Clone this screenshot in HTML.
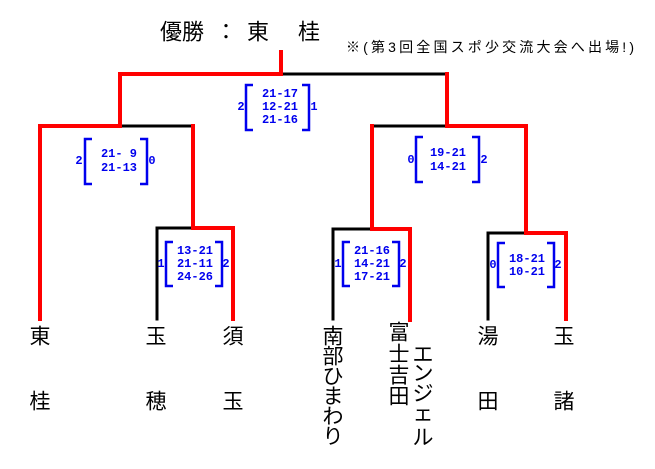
<!DOCTYPE html>
<html><head><meta charset="utf-8"><style>
html,body{margin:0;padding:0;background:#fff;}
svg{display:block;}
.n{font-family:"Liberation Sans","Noto Sans CJK JP",sans-serif;font-size:21px;fill:#000;text-anchor:middle;dominant-baseline:central;}
.s{font-family:"Liberation Mono",monospace;font-weight:bold;font-size:12px;fill:#0000ee;text-anchor:middle;dominant-baseline:central;}
.b{fill:none;stroke:#0000ee;stroke-width:2.5;}
</style></head><body>
<svg width="655" height="469" viewBox="0 0 655 469" xmlns="http://www.w3.org/2000/svg">
<g class="n" style="font-size:22px">
<text x="171" y="32">優</text><text x="193" y="32">勝</text><text x="226" y="32">：</text><text x="258" y="32">東</text><text x="309" y="32">桂</text>
</g>
<text x="346" y="47" style="font-family:'Liberation Sans','Noto Sans CJK JP',sans-serif;font-size:14px;dominant-baseline:central" textLength="288">※(第3回全国スポ少交流大会へ出場!)</text>
<g fill="none" stroke-linecap="square">
<g stroke="#000" stroke-width="3">
<path d="M281 74H447"/><path d="M120 126H193"/><path d="M372 126H447"/>
<path d="M157 319V228H193"/><path d="M333 319V229H372"/><path d="M488 319V233H526"/>
</g>
<g stroke="#ff0000" stroke-width="4">
<path d="M281 52V74H120V126H40V319"/>
<path d="M193 126V228H233V319"/>
<path d="M447 74V126H526V233H566V319"/>
<path d="M372 126V229H410V320"/>
</g>
</g>
<g>
<path class="b" d="M253 85H246V130H253M302 85H309V130H302"/>
<text class="s" x="241" y="107">2</text><text class="s" x="314" y="107">1</text>
<text class="s" x="280" y="94">21-17</text><text class="s" x="280" y="107">12-21</text><text class="s" x="280" y="120">21-16</text>
<path class="b" d="M92 139H85V184H92M140 139H147V184H140"/>
<text class="s" x="79" y="161">2</text><text class="s" x="152" y="161">0</text>
<text class="s" x="119" y="154">21- 9</text><text class="s" x="119" y="168">21-13</text>
<path class="b" d="M423 137H416V182H423M472 137H479V182H472"/>
<text class="s" x="411" y="160">0</text><text class="s" x="484" y="160">2</text>
<text class="s" x="448" y="153">19-21</text><text class="s" x="448" y="167">14-21</text>
<path class="b" d="M173 242H166V286H173M215 242H222V286H215"/>
<text class="s" x="161" y="264">1</text><text class="s" x="226" y="264">2</text>
<text class="s" x="195" y="251">13-21</text><text class="s" x="195" y="264">21-11</text><text class="s" x="195" y="277">24-26</text>
<path class="b" d="M350 242H343V286H350M392 242H399V286H392"/>
<text class="s" x="338" y="264">1</text><text class="s" x="403" y="264">2</text>
<text class="s" x="372" y="251">21-16</text><text class="s" x="372" y="264">14-21</text><text class="s" x="372" y="277">17-21</text>
<path class="b" d="M505 243H498V287H505M547 243H554V287H547"/>
<text class="s" x="493" y="265">0</text><text class="s" x="558" y="265">2</text>
<text class="s" x="527" y="259">18-21</text><text class="s" x="527" y="272">10-21</text>
</g>
<g class="n">
<text x="40" y="337">東</text><text x="40" y="402">桂</text>
<text x="156" y="337">玉</text><text x="156" y="402">穂</text>
<text x="233" y="337">須</text><text x="233" y="402">玉</text>
<text x="333" y="337">南</text><text x="333" y="357">部</text><text x="333" y="377">ひ</text><text x="333" y="397">ま</text><text x="333" y="417">わ</text><text x="333" y="437">り</text>
<text x="399" y="333">富</text><text x="399" y="355">士</text><text x="399" y="376">吉</text><text x="399" y="397">田</text>
<text x="423" y="355">エ</text><text x="423" y="374">ン</text><text x="423" y="394">ジ</text><text x="423" y="414">ェ</text><text x="423" y="438">ル</text>
<text x="488" y="337">湯</text><text x="488" y="402">田</text>
<text x="564" y="337">玉</text><text x="564" y="402">諸</text>
</g>
</svg>
</body></html>
